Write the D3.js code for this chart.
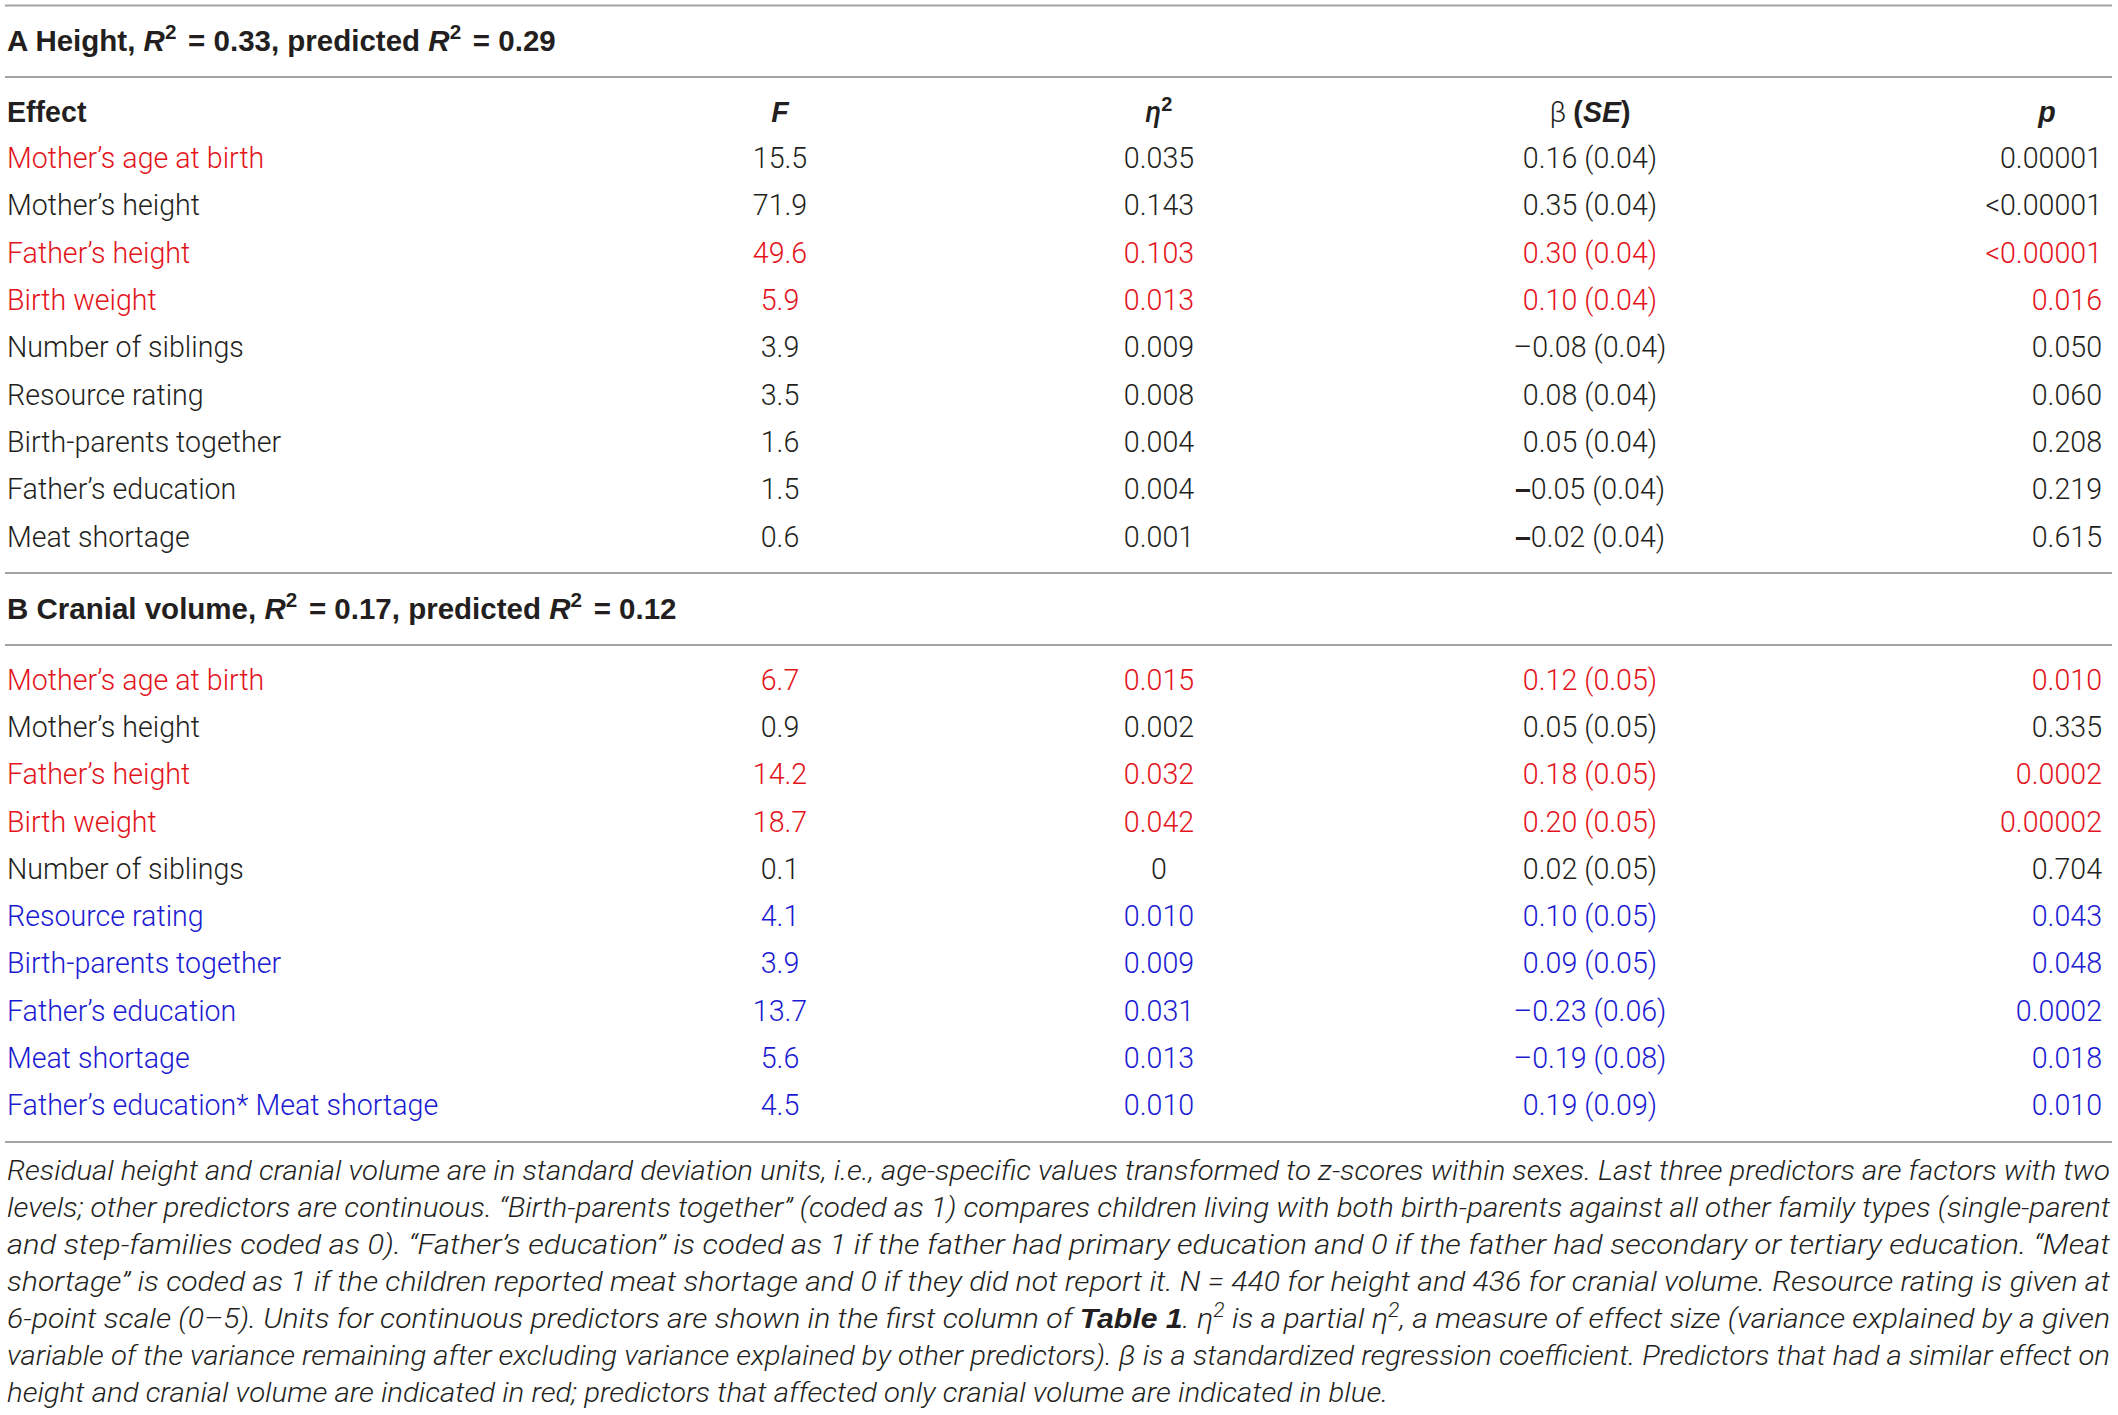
<!DOCTYPE html>
<html><head><meta charset="utf-8">
<script src="https://cdn.jsdelivr.net/npm/d3@7"></script>
<style>
html,body{margin:0;padding:0;background:#fff;}
svg{display:block;}
</style></head><body>
<svg id="chart" width="2118" height="1415"></svg>
<script>
// ---------- DATA ----------
const columns = ["effect", "F", "eta", "beta", "p"];

const effectsA = ["Mother’s age at birth","Mother’s height","Father’s height","Birth weight","Number of siblings","Resource rating","Birth-parents together","Father’s education","Meat shortage"];
const fA    = ["15.5","71.9","49.6","5.9","3.9","3.5","1.6","1.5","0.6"];
const etaA  = ["0.035","0.143","0.103","0.013","0.009","0.008","0.004","0.004","0.001"];
const betaA = ["0.16 (0.04)","0.35 (0.04)","0.30 (0.04)","0.10 (0.04)","–0.08 (0.04)","0.08 (0.04)","0.05 (0.04)","–0.05 (0.04)","–0.02 (0.04)"];
const pA    = ["0.00001","<0.00001","<0.00001","0.016","0.050","0.060","0.208","0.219","0.615"];
const labelGroupA = ["red","black","red","red","black","black","black","black","black"];
const valueGroupA = ["black","black","red","red","black","black","black","black","black"];
const boldMinusA = [false,false,false,false,false,false,false,true,true];

const effectsB = ["Mother’s age at birth","Mother’s height","Father’s height","Birth weight","Number of siblings","Resource rating","Birth-parents together","Father’s education","Meat shortage","Father’s education* Meat shortage"];
const fB    = ["6.7","0.9","14.2","18.7","0.1","4.1","3.9","13.7","5.6","4.5"];
const etaB  = ["0.015","0.002","0.032","0.042","0","0.010","0.009","0.031","0.013","0.010"];
const betaB = ["0.12 (0.05)","0.05 (0.05)","0.18 (0.05)","0.20 (0.05)","0.02 (0.05)","0.10 (0.05)","0.09 (0.05)","–0.23 (0.06)","–0.19 (0.08)","0.19 (0.09)"];
const pB    = ["0.010","0.335","0.0002","0.00002","0.704","0.043","0.048","0.0002","0.018","0.010"];
const labelGroupB = ["red","black","red","red","black","blue","blue","blue","blue","blue"];
const valueGroupB = ["red","black","red","red","black","blue","blue","blue","blue","blue"];
const boldMinusB = [false,false,false,false,false,false,false,false,false,false];

const titleA = [{t:"A Height, "},{t:"R",i:1},{t:"2",sup:1},{t:" = 0.33, predicted ",gap:1},{t:"R",i:1},{t:"2",sup:1},{t:" = 0.29",gap:1}];
const titleB = [{t:"B Cranial volume, "},{t:"R",i:1},{t:"2",sup:1},{t:" = 0.17, predicted ",gap:1},{t:"R",i:1},{t:"2",sup:1},{t:" = 0.12",gap:1}];

const headers = [
  [{t:"Effect",b:1}],
  [{t:"F",b:1,i:1}],
  [{t:"η",i:1,w:500},{t:"2",b:1,sup:1}],
  [{t:"β "},{t:"(",b:1},{t:"SE",b:1,i:1},{t:")",b:1}],
  [{t:"p",b:1,i:1}]
];

const footnoteLines = [
  [{t:"Residual height and cranial volume are in standard deviation units, i.e., age-specific values transformed to z-scores within sexes. Last three predictors are factors with two"}],
  [{t:"levels; other predictors are continuous. “Birth-parents together” (coded as 1) compares children living with both birth-parents against all other family types (single-parent"}],
  [{t:"and step-families coded as 0). “Father’s education” is coded as 1 if the father had primary education and 0 if the father had secondary or tertiary education. “Meat"}],
  [{t:"shortage” is coded as 1 if the children reported meat shortage and 0 if they did not report it. N = 440 for height and 436 for cranial volume. Resource rating is given at"}],
  [{t:"6-point scale (0–5). Units for continuous predictors are shown in the first column of "},{t:"Table 1",b:1},{t:". η"},{t:"2",sup:1},{t:" is a partial η"},{t:"2",sup:1},{t:", a measure of effect size (variance explained by a given"}],
  [{t:"variable of the variance remaining after excluding variance explained by other predictors). β is a standardized regression coefficient. Predictors that had a similar effect on"}],
  [{t:"height and cranial volume are indicated in red; predictors that affected only cranial volume are indicated in blue."}]
];

// ---------- STYLE ----------
const W = 2118, H = 1415;
const colorMap = {red:"#e3141b", blue:"#1b1bd2", black:"#231f20"};
const bodyFont = "Roboto, 'Liberation Sans', sans-serif";
const boldFont = "'Liberation Sans', Arial, sans-serif";
const fs = 28.6;
const titleFs = 29.5;

const svg = d3.select("#chart");
svg.append("rect").attr("width", W).attr("height", H).attr("fill", "#fff");

// column layout scales
const xCol = d3.scaleOrdinal().domain(columns).range([7, 780, 1159, 1590, 2102]);
const anchor = d3.scaleOrdinal().domain(columns).range(["start","middle","middle","middle","end"]);
const yA = d3.scaleLinear().domain([0, effectsA.length - 1]).range([168, 546.5]);
const yB = d3.scaleLinear().domain([0, effectsB.length - 1]).range([690, 1115]);
const yFoot = d3.scaleLinear().domain([0, footnoteLines.length - 1]).range([1180, 1402]);
const xRule = d3.scaleLinear().domain([0,1]).range([5, 2112]);

function addSegs(textSel, segs, size, boldFam) {
  let cur = 0;
  segs.forEach(s => {
    const ts = textSel.append("tspan").text(s.t);
    if (s.b) ts.attr("font-weight", 700).attr("font-family", boldFam || null);
    if (s.w) ts.attr("font-weight", s.w);
    if (s.i) ts.attr("font-style", "italic");
    if (s.gap) ts.attr("dx", size * 0.12);
    const target = s.sup ? -size * 0.4 : 0;
    if (target !== cur) { ts.attr("dy", target - cur); cur = target; }
    if (s.sup) ts.attr("font-size", size * 0.7);
  });
}

// horizontal rules
const rules = [5.5, 77, 573, 645, 1142];
svg.selectAll("line.rule").data(rules).enter().append("line")
  .attr("class","rule")
  .attr("x1", xRule(0)).attr("x2", xRule(1))
  .attr("y1", d => d).attr("y2", d => d)
  .attr("stroke", "#a3a3a3").attr("stroke-width", 2);

// section titles
[[titleA, 51],[titleB, 619]].forEach(([segs, y]) => {
  const t = svg.append("text").attr("x", xCol("effect")).attr("y", y)
    .attr("font-family", boldFont).attr("font-weight", 700)
    .attr("font-size", titleFs).attr("fill", colorMap.black);
  addSegs(t, segs, titleFs, boldFont);
});

// header row
svg.selectAll("text.hdr").data(columns).enter().append("text")
  .attr("class","hdr")
  .attr("x", d => xCol(d)).attr("y", 122)
  .attr("text-anchor", d => d === "p" ? "middle" : anchor(d))
  .attr("transform", d => d === "p" ? "translate(-55,0)" : null)
  .attr("font-family", bodyFont).attr("font-weight", 300)
  .attr("font-size", fs).attr("fill", colorMap.black)
  .each(function(d, i){ addSegs(d3.select(this), headers[i], fs, boldFont); });

// body rows
function drawSection(effects, F, eta, beta, p, labelGroup, valueGroup, boldMinus, y) {
  const rows = effects.map((e, i) => ({effect:e, F:F[i], eta:eta[i], beta:beta[i], p:p[i], lg:labelGroup[i], vg:valueGroup[i], bm:boldMinus[i], i}));
  const g = svg.append("g");
  rows.forEach(r => {
    columns.forEach(c => {
      const t = g.append("text")
        .attr("x", xCol(c)).attr("y", y(r.i))
        .attr("text-anchor", anchor(c))
        .attr("font-family", bodyFont).attr("font-weight", 300)
        .attr("font-size", fs).attr("fill", colorMap[c === "effect" ? r.lg : r.vg]);
      const val = r[c];
      if (c === "beta" && r.bm && val.startsWith("–")) {
        t.append("tspan").attr("font-weight", 700).attr("font-family", boldFont).text("–");
        t.append("tspan").text(val.slice(1));
      } else {
        t.text(val);
      }
    });
  });
}
drawSection(effectsA, fA, etaA, betaA, pA, labelGroupA, valueGroupA, boldMinusA, yA);
drawSection(effectsB, fB, etaB, betaB, pB, labelGroupB, valueGroupB, boldMinusB, yB);

// footnote (justified to the full table width)
const footFs = 28.5;
const lastLineEnd = 1388;
footnoteLines.forEach((segs, i) => {
  const t = svg.append("text")
    .attr("x", xCol("effect")).attr("y", yFoot(i))
    .attr("font-family", bodyFont).attr("font-weight", 300).attr("font-style","italic")
    .attr("font-size", footFs).attr("fill", colorMap.black);
  addSegs(t, segs.map(s => Object.assign({i:1}, s)), footFs, boldFont);
  const target = (i === footnoteLines.length - 1 ? lastLineEnd : xRule(1) - 2) - xCol("effect");
  t.attr("textLength", target).attr("lengthAdjust", "spacingAndGlyphs");
});
</script>
</body></html>
